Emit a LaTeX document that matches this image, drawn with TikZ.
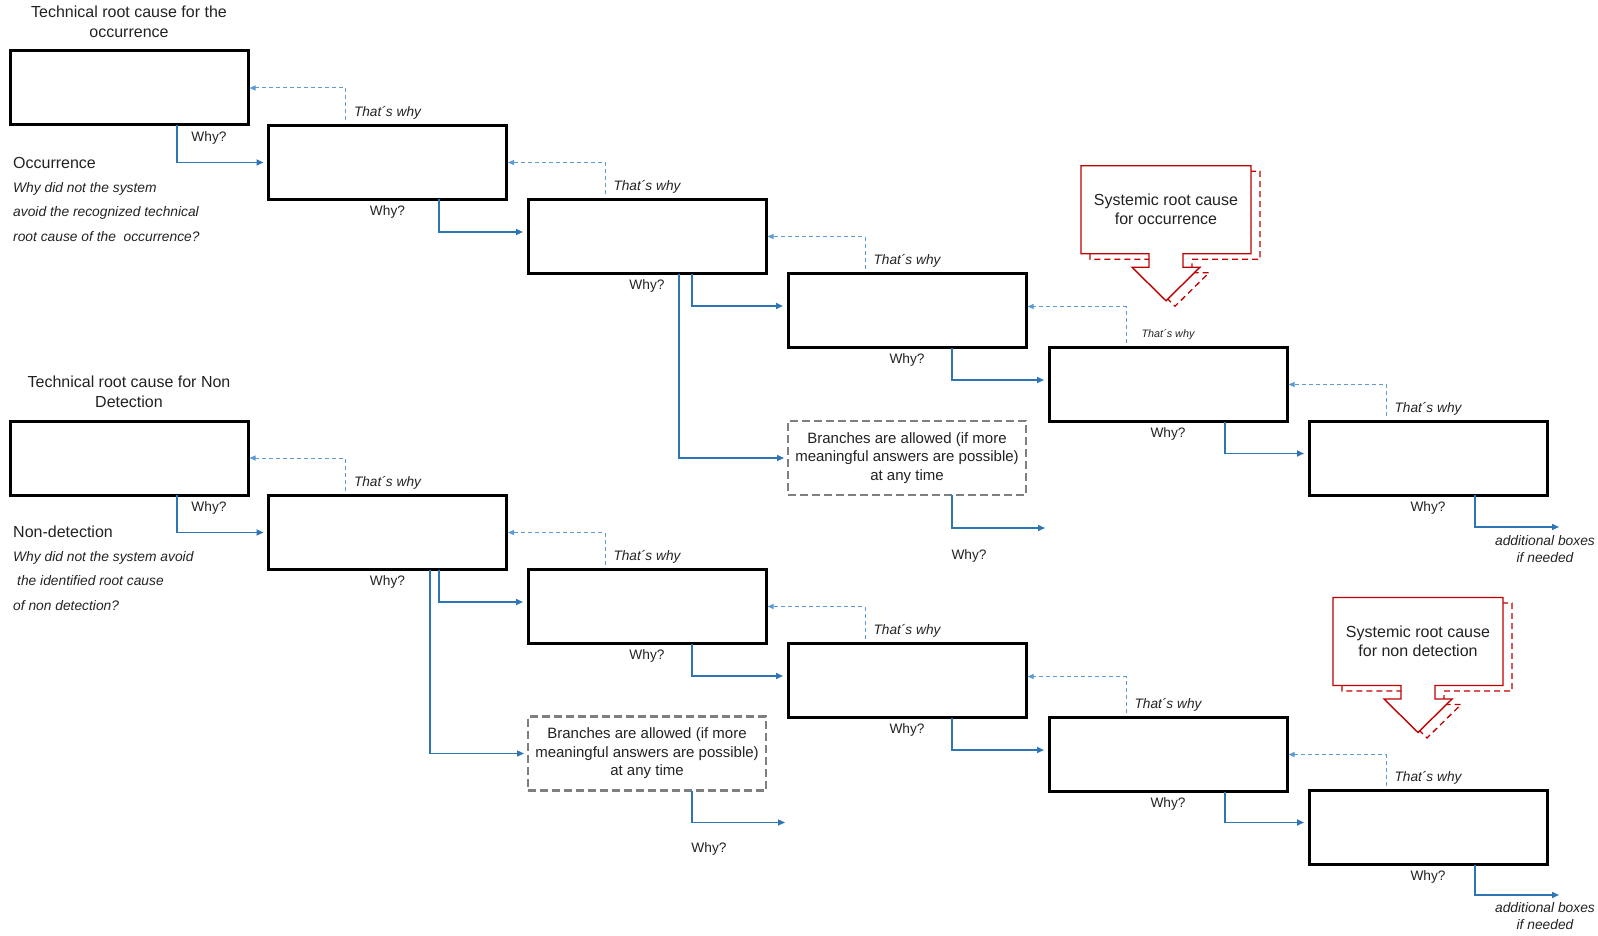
\documentclass[tikz,border=0pt]{standalone}
\usepackage{fontspec}
\setmainfont{Liberation Sans}
\usetikzlibrary{arrows.meta}
\definecolor{whyblue}{HTML}{2E75B6}
\definecolor{thatblue}{HTML}{5B9BD5}
\definecolor{calloutred}{HTML}{C00000}
\definecolor{branchgray}{HTML}{7F7F7F}
\definecolor{txt}{HTML}{222222}
\begin{document}
\begin{tikzpicture}[x=1pt,y=-1pt,
  stepbox/.style={draw=black, line width=3pt, minimum width=238pt, minimum height=74pt, inner sep=0pt, outer sep=0pt},
  branchbox/.style={draw=branchgray, line width=2.6pt, dash pattern=on 8pt off 4pt, minimum width=238pt, minimum height=74pt, inner sep=0pt, outer sep=0pt, align=center, text=txt, font=\fontsize{15}{18.6}\selectfont},
  why/.style={draw=whyblue, line width=1.8pt, -{Triangle[length=7pt,width=6pt]}},
  whythin/.style={why, line width=1.3pt},
  thats/.style={draw=thatblue, line width=1pt, dash pattern=on 4pt off 3pt, -{Triangle[length=6pt,width=5pt]}},
  whylbl/.style={inner sep=0pt, text=txt, font=\fontsize{13.7}{16}\selectfont},
  thatlbl/.style={inner sep=0pt, text=txt, font=\fontsize{13.7}{16}\selectfont\itshape},
  smallthat/.style={inner sep=0pt, text=txt, font=\fontsize{10.8}{13}\selectfont\itshape},
  title/.style={inner sep=0pt, align=center, text=txt, font=\fontsize{16}{19.5}\selectfont},
  head/.style={inner sep=0pt, anchor=west, text=txt, font=\fontsize{16}{19.5}\selectfont},
  question/.style={inner sep=0pt, anchor=west, align=left, text=txt, font=\fontsize{13.8}{24.5}\selectfont\itshape},
  extra/.style={inner sep=0pt, align=center, text=txt, font=\fontsize{13.8}{17}\selectfont\itshape},
  calloutmain/.style={draw=calloutred, line width=1.4pt, fill=white, line join=miter},
  calloutshadow/.style={draw=calloutred, line width=1.3pt, dash pattern=on 6pt off 4pt},
  calloutlbl/.style={inner sep=0pt, align=center, text=txt, font=\fontsize{16}{19}\selectfont},
  callout/.pic={
    \draw[calloutshadow, shift={(9,5.5)}] (-85,-44) -- (85,-44) -- (85,44) -- (17,44) -- (17,57.5) -- (34,57.5) -- (0,91) -- (-34,57.5) -- (-17,57.5) -- (-17,44) -- (-85,44) -- cycle;
    \draw[calloutmain] (-85,-44) -- (85,-44) -- (85,44) -- (17,44) -- (17,57.5) -- (34,57.5) -- (0,91) -- (-34,57.5) -- (-17,57.5) -- (-17,44) -- (-85,44) -- cycle;
  }
]
\useasboundingbox (0,0) rectangle (1598,936);

% ---------- upper chain (occurrence) ----------
\node[stepbox] (A1) at (129,88) {};
\node[stepbox] (A2) at (387.5,162.5) {};
\node[stepbox] (A3) at (647,236.5) {};
\node[stepbox] (A4) at (907,310.5) {};
\node[stepbox] (A5) at (1168,384.5) {};
\node[stepbox] (A6) at (1428,458) {};
\node[branchbox] (BR1) at (907,458) {Branches are allowed (if more\\meaningful answers are possible)\\at any time};

% ---------- lower chain (non detection) ----------
\node[stepbox] (B1) at (129,458) {};
\node[stepbox] (B2) at (387.5,532.5) {};
\node[stepbox] (B3) at (647,606.5) {};
\node[stepbox] (B4) at (907,680.5) {};
\node[stepbox] (B5) at (1168,754.5) {};
\node[stepbox] (B6) at (1428,827.5) {};
\node[branchbox] (BR2) at (647,753.5) {Branches are allowed (if more\\meaningful answers are possible)\\at any time};

% ---------- left texts ----------
\node[title] (T1) at (129,22) {Technical root cause for the\\occurrence};
\node[head] (OC) at (13,163) {Occurrence};
\node[question] (Q1) at (13,212) {Why did not the system\\avoid the recognized technical\\root cause of the\ \ occurrence?};
\node[title] (T2) at (129,392) {Technical root cause for Non\\Detection};
\node[head] (ND) at (13,532) {Non-detection};
\node[question] (Q2) at (13,581) {Why did not the system avoid\\\hspace{4pt}the identified root cause\\of non detection?};

% ---------- Why? labels ----------
\node[whylbl] (WA1) at (209,138) {Why?};
\node[whylbl] (WA2) at ([yshift=-12.5pt]A2.south) {Why?};
\node[whylbl] (WA3) at ([yshift=-12.5pt]A3.south) {Why?};
\node[whylbl] (WA4) at ([yshift=-12.5pt]A4.south) {Why?};
\node[whylbl] (WA5) at ([yshift=-12.5pt]A5.south) {Why?};
\node[whylbl] (WA6) at ([yshift=-12.5pt]A6.south) {Why?};
\node[whylbl] (WBR1) at (969,556) {Why?};
\node[whylbl] (WB1) at (209,508) {Why?};
\node[whylbl] (WB2) at ([yshift=-12.5pt]B2.south) {Why?};
\node[whylbl] (WB3) at ([yshift=-12.5pt]B3.south) {Why?};
\node[whylbl] (WB4) at ([yshift=-12.5pt]B4.south) {Why?};
\node[whylbl] (WB5) at ([yshift=-12.5pt]B5.south) {Why?};
\node[whylbl] (WB6) at ([yshift=-12.5pt]B6.south) {Why?};
\node[whylbl] (WBR2) at (709,849) {Why?};

% ---------- That's why labels ----------
\node[thatlbl] (HA2) at ([yshift=12.5pt]A2.north) {That´s why};
\node[thatlbl] (HA3) at ([yshift=12.5pt]A3.north) {That´s why};
\node[thatlbl] (HA4) at ([yshift=12.5pt]A4.north) {That´s why};
\node[smallthat] (HA5) at ([yshift=13pt]A5.north) {That´s why};
\node[thatlbl] (HA6) at ([yshift=12.5pt]A6.north) {That´s why};
\node[thatlbl] (HB2) at ([yshift=12.5pt]B2.north) {That´s why};
\node[thatlbl] (HB3) at ([yshift=12.5pt]B3.north) {That´s why};
\node[thatlbl] (HB4) at ([yshift=12.5pt]B4.north) {That´s why};
\node[thatlbl] (HB5) at ([yshift=12.5pt]B5.north) {That´s why};
\node[thatlbl] (HB6) at ([yshift=12.5pt]B6.north) {That´s why};

% ---------- Why arrows ----------
\draw[why] ([xshift=48pt]A1.south) |- ([xshift=-5pt]A2.west);
\draw[why] ([xshift=51.5pt]A2.south) |- ([xshift=-5pt,yshift=4.5pt]A3.west);
\draw[why] ([xshift=45pt]A3.south) |- ([xshift=-5pt,yshift=4.5pt]A4.west);
\draw[whythin] ([xshift=32pt]A3.south) |- ([xshift=-4pt]BR1.west);
\draw[why] ([xshift=45pt]A4.south) |- ([xshift=-5pt,yshift=4.5pt]A5.west);
\draw[why] ([xshift=57pt]A5.south) |- ([xshift=-5pt,yshift=4.5pt]A6.west);
\coordinate (E1) at (1045,528);
\draw[whythin] ([xshift=45pt]BR1.south) |- (E1);
\coordinate (E3) at (1559,527);
\draw[why] ([xshift=47pt]A6.south) |- (E3);

\draw[why] ([xshift=48pt]B1.south) |- ([xshift=-5pt]B2.west);
\draw[why] ([xshift=51.5pt]B2.south) |- ([xshift=-5pt,yshift=4.5pt]B3.west);
\draw[whythin] ([xshift=42.5pt]B2.south) |- ([xshift=-4pt]BR2.west);
\draw[why] ([xshift=45pt]B3.south) |- ([xshift=-5pt,yshift=4.5pt]B4.west);
\draw[why] ([xshift=45pt]B4.south) |- ([xshift=-5pt,yshift=4.5pt]B5.west);
\draw[why] ([xshift=57pt]B5.south) |- ([xshift=-5pt,yshift=5pt]B6.west);
\coordinate (E2) at (785,822.5);
\draw[whythin] ([xshift=45pt]BR2.south) |- (E2);
\coordinate (E4) at (1559,895);
\draw[why] ([xshift=47pt]B6.south) |- (E4);

% ---------- That's why dashed arrows ----------
\draw[thats] ([xshift=-42pt,yshift=5pt]A2.north) |- ([xshift=1.5pt]A1.east);
\draw[thats] ([xshift=-42pt,yshift=5pt]A3.north) |- ([xshift=1.5pt]A2.east);
\draw[thats] ([xshift=-42pt,yshift=5pt]A4.north) |- ([xshift=1.5pt]A3.east);
\draw[thats] ([xshift=-42pt,yshift=5pt]A5.north) |- ([xshift=1.5pt,yshift=4pt]A4.east);
\draw[thats] ([xshift=-42pt,yshift=5pt]A6.north) |- ([xshift=1.5pt]A5.east);
\draw[thats] ([xshift=-42pt,yshift=5pt]B2.north) |- ([xshift=1.5pt]B1.east);
\draw[thats] ([xshift=-42pt,yshift=5pt]B3.north) |- ([xshift=1.5pt]B2.east);
\draw[thats] ([xshift=-42pt,yshift=5pt]B4.north) |- ([xshift=1.5pt]B3.east);
\draw[thats] ([xshift=-42pt,yshift=5pt]B5.north) |- ([xshift=1.5pt,yshift=4pt]B4.east);
\draw[thats] ([xshift=-42pt,yshift=5pt]B6.north) |- ([xshift=1.5pt]B5.east);

% ---------- additional boxes ----------
\node[extra] (X1) at (1545,549) {additional boxes\\if needed};
\node[extra] (X2) at (1545,916) {additional boxes\\if needed};

% ---------- systemic root cause callouts ----------
\pic at (1166,209.75) {callout};
\node[calloutlbl] (S1) at (1166,209.75) {Systemic root cause\\for occurrence};
\pic at (1418,641.5) {callout};
\node[calloutlbl] (S2) at (1418,641.5) {Systemic root cause\\for non detection};
\end{tikzpicture}
\end{document}
